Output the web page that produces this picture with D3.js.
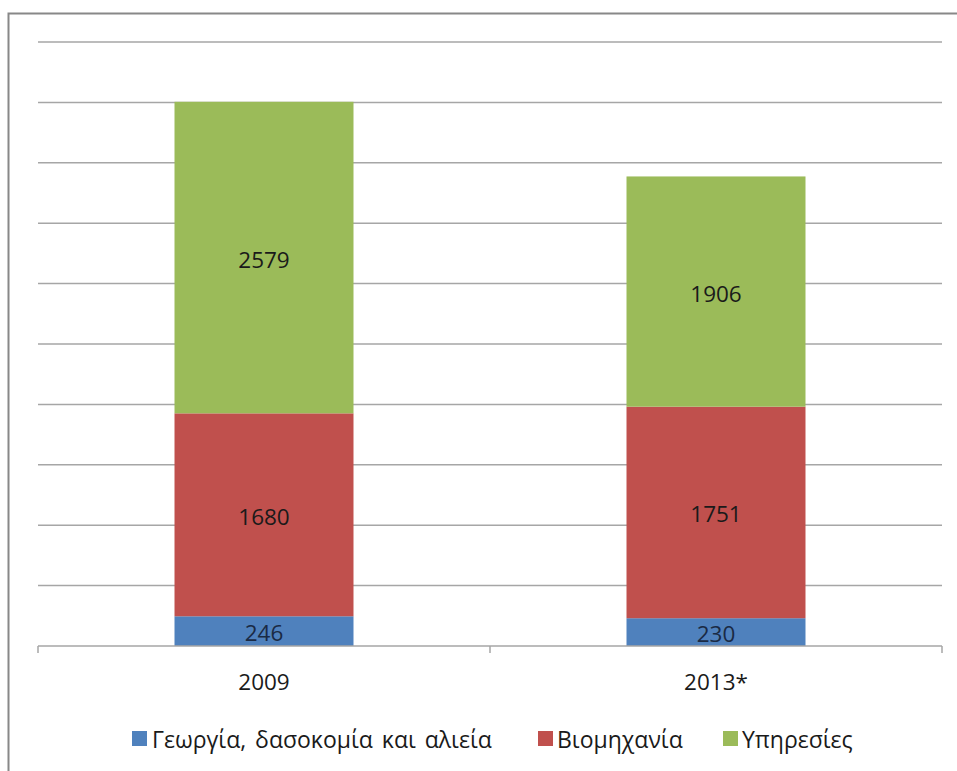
<!DOCTYPE html>
<html><head><meta charset="utf-8">
<script src="https://cdn.jsdelivr.net/npm/d3@7"></script>
<style>body{margin:0;background:#fff}svg{display:block}</style>
</head><body>
<svg id="c" width="957" height="771"></svg>
<script>
const categories = ["2009", "2013*"];
const seriesNames = ["Γεωργία, δασοκομία και αλιεία", "Βιομηχανία", "Υπηρεσίες"];
const agriculture = [246, 230];
const industry = [1680, 1751];
const services = [2579, 1906];
const colors = ["#4f81bd", "#c0504d", "#9bbb59"];
const yTicks = [0, 500, 1000, 1500, 2000, 2500, 3000, 3500, 4000, 4500, 5000];

const svg = d3.select("#c");
const font = "'Open Sans', 'Noto Sans', sans-serif";
svg.append("rect").attr("x", 8.5).attr("y", 13.5).attr("width", 960).attr("height", 770)
  .attr("fill", "#fff").attr("stroke", "#888").attr("stroke-width", 2);

const x = d3.scaleBand().domain(categories).range([38, 942]).paddingInner(0).paddingOuter(0);
const y = d3.scaleLinear().domain([0, 5000]).range([646, 42]);

const g = svg.append("g");
g.selectAll("line.grid").data(yTicks.slice(1)).join("line")
  .attr("x1", 38).attr("x2", 942).attr("y1", d => y(d)).attr("y2", d => y(d))
  .attr("stroke", "#a6a6a6").attr("stroke-width", 1.5);

const rows = categories.map((c, i) => ({cat: c, a: agriculture[i], b: industry[i], s: services[i]}));
const stack = d3.stack().keys(["a", "b", "s"])(rows);
const bw = x.bandwidth() * 0.396;
stack.forEach((layer, k) => {
  layer.forEach(d => {
    const cx = x(d.data.cat) + x.bandwidth() / 2;
    g.append("rect").attr("x", cx - bw / 2).attr("width", bw)
      .attr("y", y(d[1])).attr("height", y(d[0]) - y(d[1])).attr("fill", colors[k]);
    g.append("text").attr("x", cx).attr("y", (y(d[0]) + y(d[1])) / 2 + 1.5)
      .attr("text-anchor", "middle").attr("dominant-baseline", "central")
      .attr("font-family", font).attr("font-size", 22.5)
      .attr("fill", k === 0 ? "#1a2a44" : "#1a1a1a").text(d[1] - d[0]);
  });
});

const axis = d3.axisBottom(x).tickSize(0).tickPadding(0);
const ax = svg.append("g").attr("transform", "translate(0,646)");
ax.append("line").attr("x1", 38).attr("x2", 942).attr("stroke", "#a6a6a6").attr("stroke-width", 1.5);
[38, 490, 942].forEach(t => ax.append("line").attr("x1", t).attr("x2", t).attr("y1", 0).attr("y2", 7)
  .attr("stroke", "#a6a6a6").attr("stroke-width", 1.5));
const axG = svg.append("g").attr("transform", "translate(0,646)").call(axis);
axG.select(".domain").remove();
axG.selectAll("text").attr("dy", null).attr("y", 44).attr("font-family", font).attr("font-size", 22.5).attr("fill", "#1a1a1a");

const legend = [[132, 152], [538, 557], [723, 742]];
seriesNames.forEach((n, i) => {
  svg.append("rect").attr("x", legend[i][0]).attr("y", 731).attr("width", 15).attr("height", 15).attr("fill", colors[i]);
  svg.append("text").attr("x", legend[i][1]).attr("y", 748).attr("font-family", font).attr("font-size", 23)
    .attr("word-spacing", 3).attr("fill", "#1a1a1a").text(n);
});
</script>
</body></html>
